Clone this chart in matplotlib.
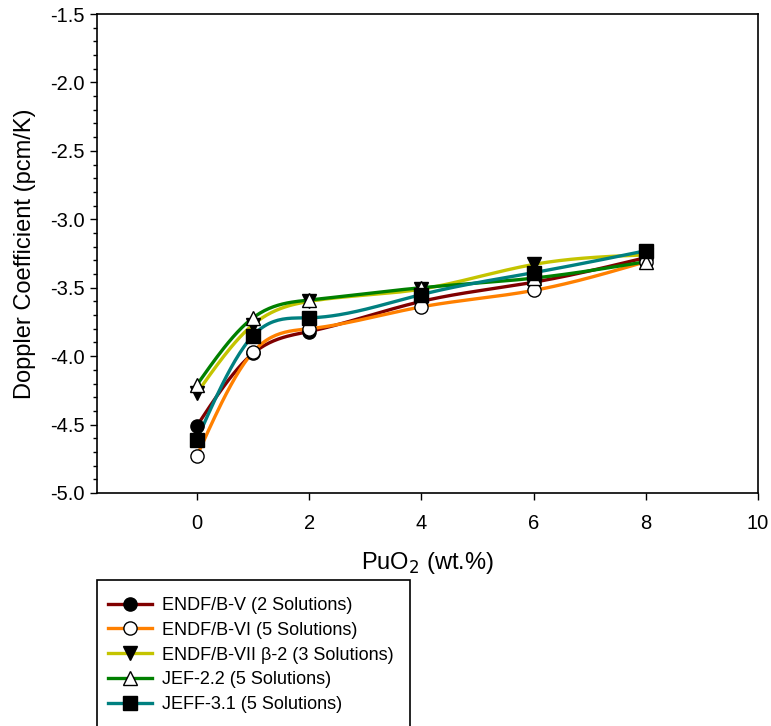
import numpy as np
import matplotlib
matplotlib.use("Agg")
from matplotlib import pyplot as plt
from matplotlib.lines import Line2D
from matplotlib.patches import Rectangle
from matplotlib.ticker import MultipleLocator, FormatStrFormatter

plt.rcParams['font.family'] = ['Liberation Sans', 'DejaVu Sans']

puo2 = [0, 1, 2, 4, 6, 8]

endf5 = [-4.51, -3.98, -3.82, -3.60, -3.46, -3.28]
endf6 = [-4.73, -3.97, -3.80, -3.64, -3.52, -3.31]
endf7 = [-4.27, -3.77, -3.60, -3.51, -3.33, -3.26]
jef22 = [-4.21, -3.72, -3.59, -3.50, -3.43, -3.31]
jeff31 = [-4.61, -3.85, -3.72, -3.55, -3.39, -3.23]

labels = ['ENDF/B-V (2 Solutions)', 'ENDF/B-VI (5 Solutions)',
          'ENDF/B-VII \u03b2-2 (3 Solutions)', 'JEF-2.2 (5 Solutions)',
          'JEFF-3.1 (5 Solutions)']
colors = ['#800000', '#ff8000', '#c4c400', '#008000', '#008080']
markers = ['o', 'o', 'v', '^', 's']
faces = ['black', 'white', 'black', 'white', 'black']


def natural_spline(x, y, n=200):
    # natural cubic spline through the points, just for drawing the curve
    x = np.asarray(x, float)
    y = np.asarray(y, float)
    k = len(x)
    h = np.diff(x)
    A = np.zeros((k, k))
    b = np.zeros(k)
    A[0, 0] = 1
    A[-1, -1] = 1
    for i in range(1, k - 1):
        A[i, i - 1] = h[i - 1]
        A[i, i] = 2 * (h[i - 1] + h[i])
        A[i, i + 1] = h[i]
        b[i] = 3 * ((y[i + 1] - y[i]) / h[i] - (y[i] - y[i - 1]) / h[i - 1])
    c = np.linalg.solve(A, b)
    xs = np.linspace(x[0], x[-1], n)
    ys = np.empty_like(xs)
    for j, xv in enumerate(xs):
        i = min(np.searchsorted(x, xv, side='right') - 1, k - 2)
        bi = (y[i + 1] - y[i]) / h[i] - h[i] * (2 * c[i] + c[i + 1]) / 3
        di = (c[i + 1] - c[i]) / (3 * h[i])
        t = xv - x[i]
        ys[j] = y[i] + bi * t + c[i] * t ** 2 + di * t ** 3
    return xs, ys


fig = plt.figure(figsize=(7.71, 7.26), dpi=100)
ax = fig.add_axes([97 / 771, 1 - 493 / 726, (758 - 97) / 771, (493 - 14) / 726])

series = [endf5, endf6, endf7, jef22, jeff31]
for vals, col in zip(series, colors):
    xs, ys = natural_spline(puo2, vals)
    ax.plot(xs, ys, color=col, lw=2.4, zorder=2)
for vals, m, fc in zip(series, markers, faces):
    ax.plot(puo2, vals, ls='none', marker=m, ms=9.5, mfc=fc, mec='black',
            mew=1.0, zorder=3)

ax.set_xlim(-1.78, 10)
ax.set_ylim(-5.0, -1.5)
ax.xaxis.set_major_locator(MultipleLocator(2))
ax.yaxis.set_major_locator(MultipleLocator(0.5))
ax.yaxis.set_minor_locator(MultipleLocator(0.1))
ax.yaxis.set_major_formatter(FormatStrFormatter('%.1f'))
ax.tick_params(which='major', direction='out', length=5, width=1,
               labelsize=14.5, top=False, right=False)
ax.tick_params(which='minor', direction='out', length=3, width=1)
ax.tick_params(axis='x', pad=10)
ax.tick_params(axis='y', pad=4)
for s in ax.spines.values():
    s.set_linewidth(1.2)

ax.set_xlabel('PuO$_2$ (wt.%)', fontsize=17, labelpad=12)
ax.set_ylabel('Doppler Coefficient (pcm/K)', fontsize=17, labelpad=10)

# legend box runs off the bottom of the figure like the original
fig.patches.append(Rectangle((97 / 771, -0.02), (410 - 97) / 771,
                             (1 - 580 / 726) + 0.02, transform=fig.transFigure,
                             fill=False, edgecolor='black', lw=1.2))
handles = [Line2D([], [], color=c, lw=2.4, marker=m, ms=9.5, mfc=fc, mec='black')
           for c, m, fc in zip(colors, markers, faces)]
leg = fig.legend(handles, labels, loc='upper left',
                 bbox_to_anchor=(108 / 771, 1 - 597 / 726),
                 frameon=False, fontsize=13, handlelength=2.45,
                 handletextpad=0.55, labelspacing=0.43, borderpad=0,
                 borderaxespad=0)

fig.savefig('out.png', dpi=100)
